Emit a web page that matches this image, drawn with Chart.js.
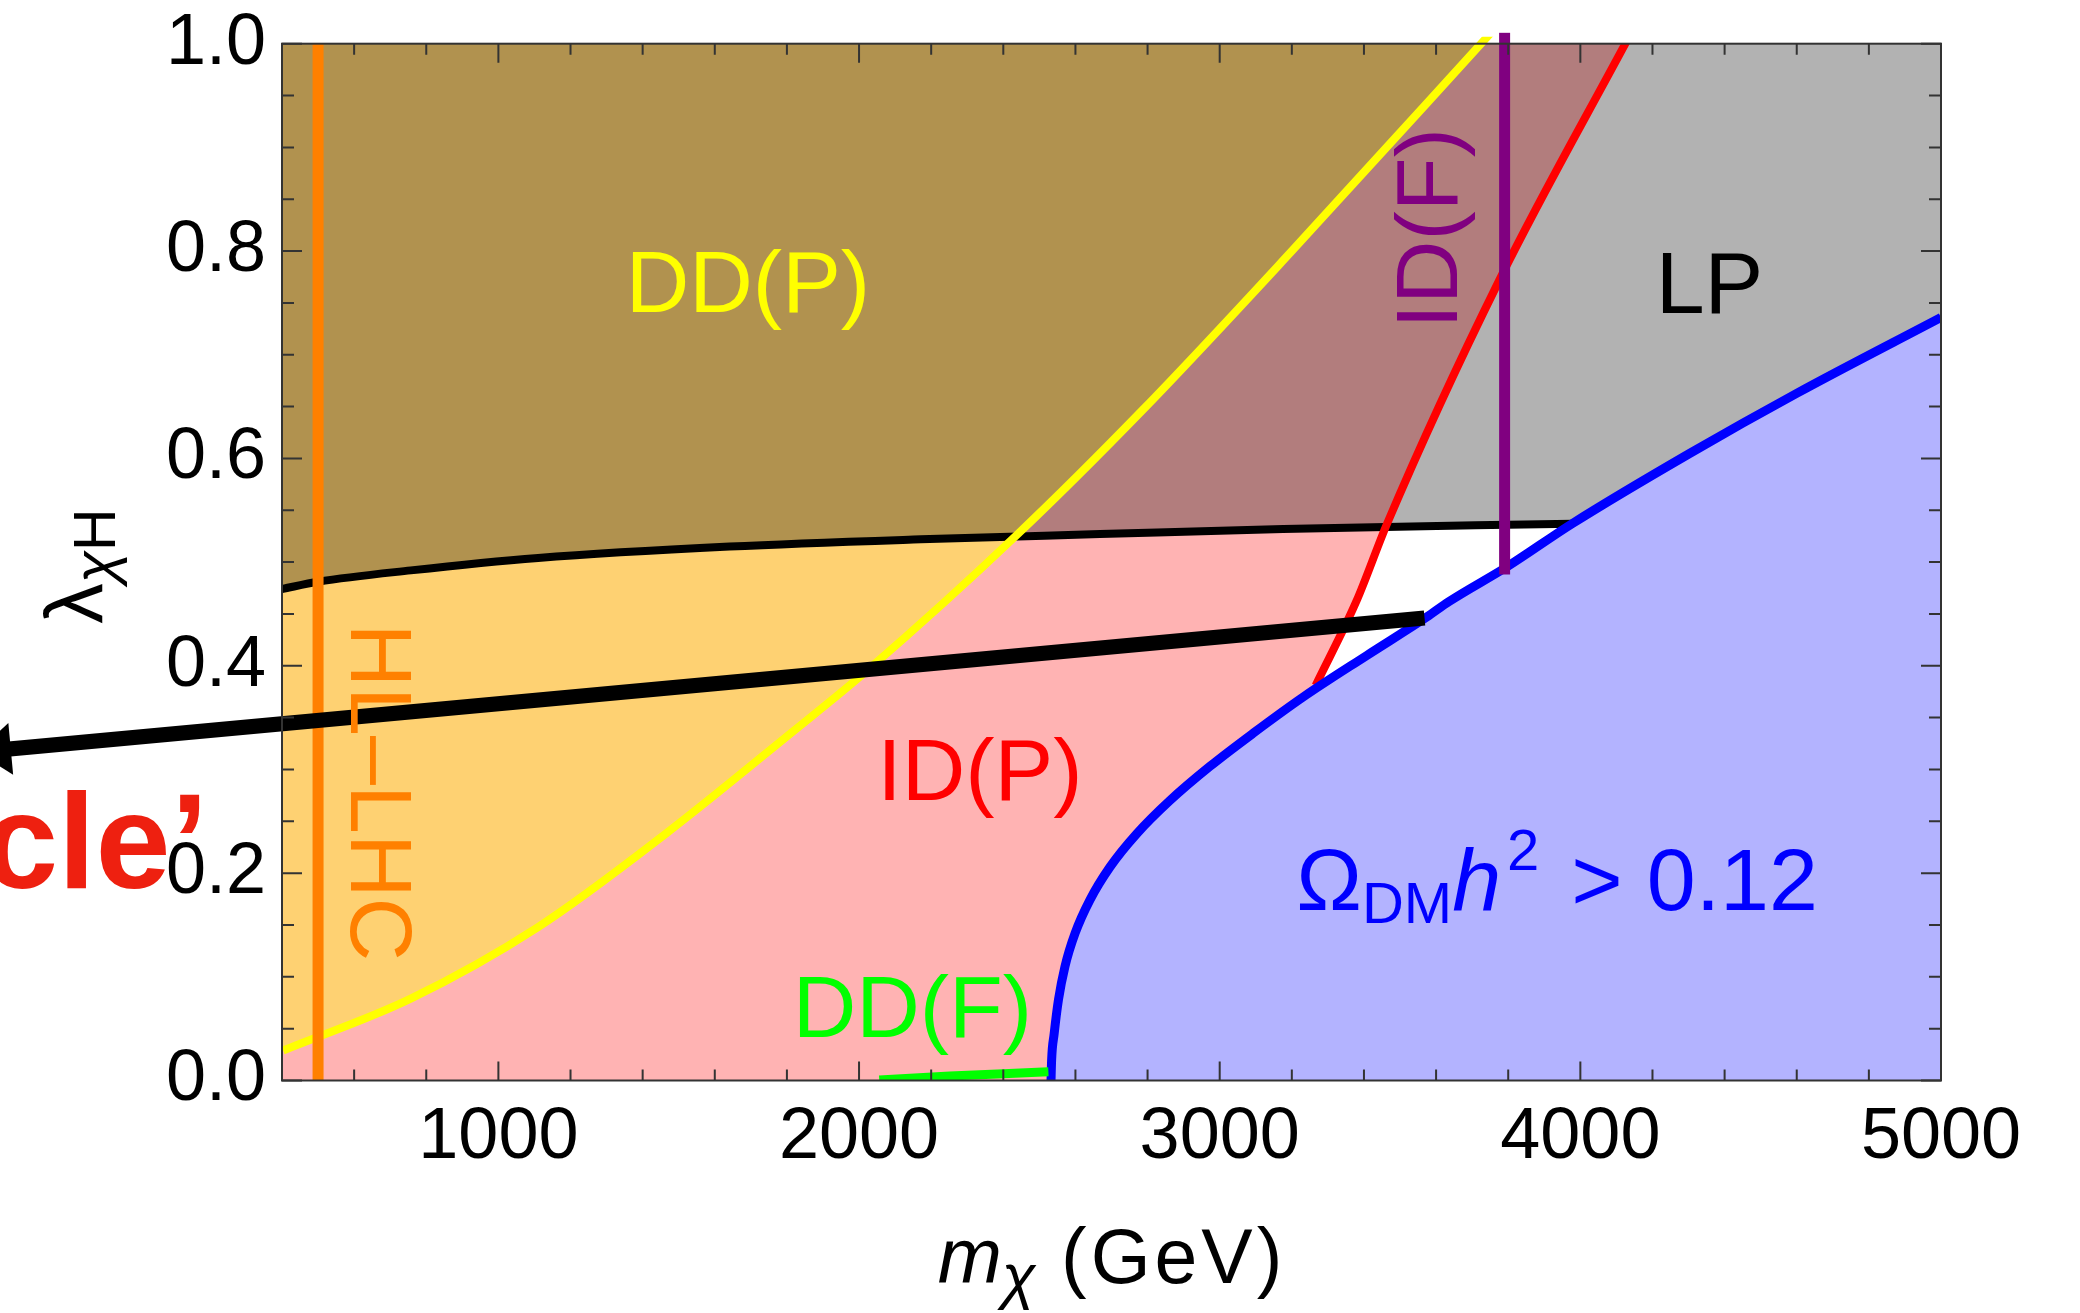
<!DOCTYPE html>
<html>
<head>
<meta charset="utf-8">
<script src="https://cdn.jsdelivr.net/npm/chart.js@4.4.0/dist/chart.umd.min.js"></script>
<style>
  html, body { margin: 0; padding: 0; background: #fff; }
  canvas { display: block; }
</style>
</head>
<body>
<canvas id="plot" width="2080" height="1313"></canvas>
<script>
// axes
const xRange = [400, 5000]
const yRange = [0, 1]
const xMajorTicks = [1000, 2000, 3000, 4000, 5000]
const xMinorTicks = [600, 800, 1200, 1400, 1600, 1800, 2200, 2400, 2600, 2800, 3200, 3400, 3600, 3800, 4200, 4400, 4600, 4800]
const yMajorTicks = [0, 0.2, 0.4, 0.6, 0.8, 1.0]
const yMinorTicks = [0.05, 0.1, 0.15, 0.25, 0.3, 0.35, 0.45, 0.5, 0.55, 0.65, 0.7, 0.75, 0.85, 0.9, 0.95]

// curves: m_chi (GeV) vs lambda
const ddpX = [403, 757, 1110, 1464, 1818, 2021, 2437, 2790, 3200, 3756]
const ddpY = [0.029, 0.079, 0.148, 0.238, 0.337, 0.395, 0.526, 0.648, 0.800, 1.012]

const idpX = [3266, 3380, 3464, 3774, 4140]
const idpY = [0.381, 0.463, 0.537, 0.771, 1.010]

const relicX = [2532, 2534, 2541, 2553, 2571, 2599, 2640, 2696, 2770, 2862, 2973, 3093, 3232, 3408, 3574, 3636, 3799, 3977, 4304, 4601, 5000]
const relicY = [-0.004, 0.020, 0.045, 0.078, 0.110, 0.142, 0.174, 0.206, 0.238, 0.270, 0.303, 0.335, 0.370, 0.410, 0.447, 0.462, 0.496, 0.537, 0.605, 0.663, 0.736]

const lpX = [400, 500, 757, 1110, 1641, 2171, 2668, 3176, 3977]
const lpY = [0.474, 0.481, 0.492, 0.504, 0.515, 0.522, 0.527, 0.532, 0.537]

const ddfX = [2056, 2252, 2400, 2525]
const ddfY = [0.0005, 0.0043, 0.0066, 0.0085]

const hllhcX = [500, 500]
const hllhcY = [-0.004, 1.005]

const idfX = [3790, 3790]
const idfY = [0.488, 1.011]

// annotation arrow (tip first)
const arrowX = [-446, 3568]
const arrowY = [0.3168, 0.446]

const plotLabels = [
  { text: 'DD(P)', x: 1692, y: 0.741, color: '#FFFF00', rot: 0 },
  { text: 'ID(P)', x: 2335, y: 0.2705, color: '#FF0000', rot: 0 },
  { text: 'DD(F)', x: 2148, y: 0.0424, color: '#00FF00', rot: 0 },
  { text: 'LP', x: 4358, y: 0.740, color: '#000000', rot: 0 },
  { text: 'HL–LHC', x: 591, y: 0.278, color: '#FF8000', rot: 90 },
  { text: 'ID(F)', x: 3658, y: 0.822, color: '#800080', rot: -90 }
]

const FAMILY = '"Liberation Sans", Arial, sans-serif'
function font(size, style, weight) {
  return (style || 'normal') + ' ' + (weight || 'normal') + ' ' + size + 'px ' + FAMILY
}

function pts(xs, ys) {
  return xs.map((x, i) => ({ x: x, y: ys[i] }))
}

const ddp = pts(ddpX, ddpY)
const idp = pts(idpX, idpY)
const relic = pts(relicX, relicY)
const lp = pts(lpX, lpY)

// filled regions
const pinkPoly = [{ x: xRange[0], y: 0 }, { x: idpX[0], y: 0 }].concat(idp, [{ x: xRange[0], y: idpY[idpY.length - 1] }])
const orangePoly = [{ x: xRange[0], y: 0 }].concat(ddp, [{ x: xRange[0], y: ddpY[ddpY.length - 1] }])
const bluePoly = relic.concat([{ x: xRange[1], y: 0 }])
const lpPoly = lp.concat(relic.filter(p => p.x > lpX[lpX.length - 1]), [{ x: xRange[1], y: 1.02 }, { x: xRange[0], y: 1.02 }])

function area(data, color) {
  return { data: data, showLine: true, fill: 'shape', backgroundColor: color, borderWidth: 0, pointRadius: 0 }
}
function curve(data, color, width, clip, smooth) {
  const d = { data: data, showLine: true, fill: false, borderColor: color, borderWidth: width, pointRadius: 0 }
  if (clip !== undefined && clip !== null) d.clip = clip
  if (smooth) d.cubicInterpolationMode = 'monotone'
  return d
}

// bottom -> top
const layers = [
  area(pinkPoly, '#FFB3B3'),
  area(orangePoly, '#FED172'),
  area(bluePoly, '#B3B3FF'),
  area(lpPoly, 'rgba(0,0,0,0.3)'),
  curve(lp, '#000000', 8, null, true),
  curve(ddp, '#FFFF00', 8, 7, true),
  curve(idp, '#FF0000', 8, null, true),
  curve(relic, '#0000FF', 9, null, true),
  curve(pts(ddfX, ddfY), '#00FF00', 9),
  curve(pts(idfX, idfY), '#800080', 11, 11),
  curve(pts(hllhcX, hllhcY), '#FF8000', 11),
  curve(pts(arrowX, arrowY), '#000000', 15, false)
]

function drawRuns(ctx, runs, x, y, align) {
  let total = 0
  runs.forEach(r => {
    ctx.font = r.font
    ctx.letterSpacing = r.ls || '0px'
    r.w = ctx.measureText(r.text).width
    total += (r.gap || 0) + r.w
  })
  let cx = align === 'center' ? x - total / 2 : x
  runs.forEach(r => {
    cx += r.gap || 0
    ctx.font = r.font
    ctx.letterSpacing = r.ls || '0px'
    ctx.fillText(r.text, cx, y + (r.dy || 0))
    cx += r.w
  })
  ctx.letterSpacing = '0px'
}

const frameTicks = {
  id: 'frameTicks',
  afterDatasetsDraw(chart) {
    const { ctx, chartArea: a, scales: { x, y } } = chart
    ctx.save()
    ctx.strokeStyle = '#333'
    ctx.lineWidth = 2
    ctx.beginPath()
    const tickX = (v, len) => {
      const p = x.getPixelForValue(v)
      ctx.moveTo(p, a.bottom); ctx.lineTo(p, a.bottom - len)
      ctx.moveTo(p, a.top); ctx.lineTo(p, a.top + len)
    }
    const tickY = (v, len) => {
      const p = y.getPixelForValue(v)
      ctx.moveTo(a.left, p); ctx.lineTo(a.left + len, p)
      ctx.moveTo(a.right, p); ctx.lineTo(a.right - len, p)
    }
    xMajorTicks.forEach(v => tickX(v, 19))
    xMinorTicks.forEach(v => tickX(v, 11))
    yMajorTicks.forEach(v => tickY(v, 20))
    yMinorTicks.forEach(v => tickY(v, 12))
    ctx.stroke()
    ctx.strokeRect(a.left, a.top, a.right - a.left, a.bottom - a.top)
    ctx.restore()
  }
}

const annotations = {
  id: 'annotations',
  afterDatasetsDraw(chart) {
    const { ctx, chartArea: a, scales: { x, y } } = chart
    ctx.save()
    ctx.textBaseline = 'alphabetic'

    // region labels
    plotLabels.forEach(l => {
      ctx.save()
      ctx.translate(x.getPixelForValue(l.x), y.getPixelForValue(l.y))
      ctx.rotate(l.rot * Math.PI / 180)
      ctx.font = font(88)
      ctx.fillStyle = l.color
      ctx.textAlign = 'center'
      ctx.fillText(l.text, 0, 0)
      ctx.restore()
    })

    // relic density label
    ctx.textAlign = 'left'
    ctx.fillStyle = '#0000FF'
    drawRuns(ctx, [
      { text: 'Ω', font: font(88) },
      { text: 'DM', font: font(58), dy: 13 },
      { text: 'h', font: font(88, 'italic') },
      { text: '2', font: font(58), dy: -40, gap: 6 },
      { text: '>', font: font(88), gap: 32 },
      { text: '0.12', font: font(88), gap: 24 }
    ], x.getPixelForValue(3212), y.getPixelForValue(0.1644), 'left')

    // arrow head
    const tx = x.getPixelForValue(arrowX[0]), ty = y.getPixelForValue(arrowY[0])
    const ex = x.getPixelForValue(arrowX[1]), ey = y.getPixelForValue(arrowY[1])
    const len = Math.hypot(tx - ex, ty - ey)
    const dx = (tx - ex) / len, dy = (ty - ey) / len
    const bx = tx - dx * 34, by = ty - dy * 34
    ctx.fillStyle = '#000'
    ctx.beginPath()
    ctx.moveTo(tx, ty)
    ctx.lineTo(bx - dy * 26, by + dx * 26)
    ctx.lineTo(bx + dy * 26, by - dx * 26)
    ctx.closePath()
    ctx.fill()

    // axis titles
    ctx.fillStyle = '#000'
    drawRuns(ctx, [
      { text: 'm', font: font(77, 'italic') },
      { text: 'χ', font: font(62, 'italic'), dy: 14 },
      { text: ' (GeV)', font: font(77), ls: '4px' }
    ], (a.left + a.right) / 2 + 0.5, a.bottom + 202.5, 'center')

    ctx.save()
    ctx.translate(102, (a.top + a.bottom) / 2 + 4)
    ctx.rotate(-Math.PI / 2)
    drawRuns(ctx, [
      { text: 'λ', font: font(81) },
      { text: 'χ', font: font(59, 'italic'), dy: 13 },
      { text: 'H', font: font(59), dy: 13 }
    ], 0, 0, 'center')
    ctx.restore()

    // slide overlay text cut at the left edge
    ctx.fillStyle = '#EE2010'
    ctx.font = font(135, 'normal', 'bold')
    ctx.fillText('cle’', -17, 888)
    ctx.restore()
  }
}

new Chart(document.getElementById('plot').getContext('2d'), {
  type: 'scatter',
  data: { datasets: layers.slice().reverse() },
  options: {
    responsive: false,
    animation: false,
    events: [],
    devicePixelRatio: 1,
    layout: { padding: { left: 0, right: 139, top: 43.7, bottom: 0 } },
    plugins: {
      legend: { display: false },
      tooltip: { enabled: false },
      filler: { drawTime: 'beforeDatasetsDraw' }
    },
    elements: {
      line: { tension: 0, borderCapStyle: 'butt', borderJoinStyle: 'round', capBezierPoints: false },
      point: { radius: 0 }
    },
    scales: {
      x: {
        type: 'linear', min: xRange[0], max: xRange[1],
        afterFit: s => { s.height = 232.5; s.paddingLeft = 0; s.paddingRight = 0 },
        afterBuildTicks: s => { s.ticks = xMajorTicks.map(v => ({ value: v })) },
        grid: { display: false, drawTicks: false },
        border: { display: false },
        ticks: { color: '#000', font: { family: FAMILY, size: 72 }, padding: 14, maxRotation: 0, autoSkip: false, callback: v => String(v) }
      },
      y: {
        type: 'linear', min: yRange[0], max: yRange[1],
        afterFit: s => { s.width = 282; s.paddingTop = 0; s.paddingBottom = 0 },
        afterBuildTicks: s => { s.ticks = yMajorTicks.map(v => ({ value: v })) },
        grid: { display: false, drawTicks: false },
        border: { display: false },
        ticks: { color: '#000', font: { family: FAMILY, size: 72 }, padding: 16, autoSkip: false, callback: v => v.toFixed(1) }
      }
    }
  },
  plugins: [frameTicks, annotations]
})
</script>
</body>
</html>
